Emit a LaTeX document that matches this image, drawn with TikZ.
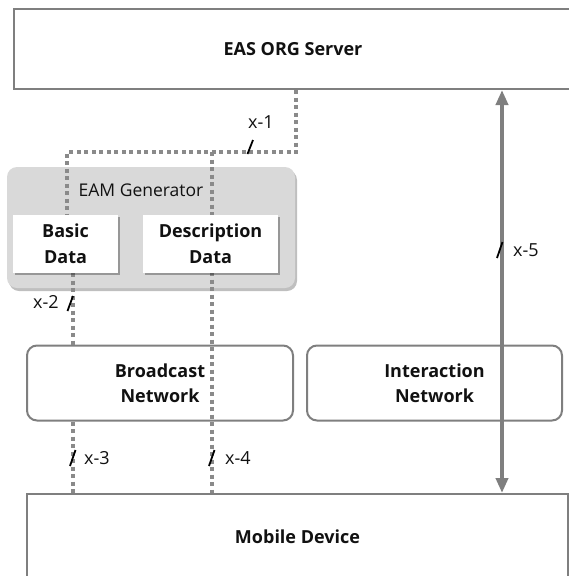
\documentclass[tikz,border=0pt]{standalone}
\usepackage{fontspec}
\setmainfont{Open Sans}
\usetikzlibrary{arrows.meta,shadows}
\pgfdeclarelayer{bg}
\pgfdeclarelayer{fg}
\pgfsetlayers{bg,main,fg}
\definecolor{bordergray}{HTML}{7F7F7F}
\definecolor{dotgray}{HTML}{8A8A8A}
\definecolor{eamfill}{HTML}{D9D9D9}
\definecolor{txt}{HTML}{111111}
\tikzset{
  plainbox/.style={draw=bordergray, line width=2pt, fill=white, inner sep=0pt, align=center, text=txt, font=\bfseries\fontsize{18}{25.5}\selectfont},
  netbox/.style={plainbox, rounded corners=10pt},
  eambox/.style={fill=eamfill, rounded corners=10pt, inner sep=0pt,
     drop shadow={shadow xshift=2pt, shadow yshift=-3pt, opacity=0.25, fill=black}},
  databox/.style={fill=white, inner sep=0pt, align=center, text=txt, font=\bfseries\fontsize{18}{26}\selectfont,
     drop shadow={shadow xshift=2pt, shadow yshift=-2pt, opacity=0.3, fill=black}},
  dotline/.style={draw=dotgray, line width=4pt, dash pattern=on 4pt off 3.5pt},
  slashmark/.style={draw=black, line width=1.8pt},
  lbl/.style={font=\fontsize{18}{20}\selectfont, inner sep=0pt, text=txt},
  twoway/.style={draw=bordergray, line width=4pt, {Triangle[width=12pt,length=15pt]}-{Triangle[width=12pt,length=15pt]}},
}
\begin{document}
\begin{tikzpicture}[x=1pt,y=-1pt]
\useasboundingbox (0,0) rectangle (569,576);

% main boxes
\node[plainbox, minimum width=558pt, minimum height=80pt] (server) at (293,49) {EAS ORG Server};
\node[plainbox, minimum width=541pt, minimum height=86pt] (mobile) at (297.5,537) {Mobile Device};
\node[netbox, minimum width=266pt, minimum height=75pt] (broadcast) at (160,383) {Broadcast\\Network};
\node[netbox, minimum width=255pt, minimum height=75pt] (interaction) at (434.5,383) {Interaction\\Network};

% EAM generator
\begin{pgfonlayer}{bg}
\node[eambox, minimum width=288pt, minimum height=121pt] (eam) at (151,227.5) {};
\end{pgfonlayer}
\node[lbl, font=\fontsize{17.5}{20}\selectfont] (eamlabel) at (141,190) {EAM Generator};

\begin{pgfonlayer}{fg}
\node[databox, minimum width=105pt, minimum height=58pt] (basic) at (65.5,244) {Basic\\Data};
\node[databox, minimum width=135pt, minimum height=58pt] (desc) at (210.5,244) {Description\\Data};
\end{pgfonlayer}

% helper coordinates
\coordinate (cx1) at (296,152);
\coordinate (cleft) at (67,152);
\coordinate (cright) at (212,152);
\coordinate (cl2) at (73,0);
\coordinate (c5) at (502,0);

% dotted paths
\draw[dotline] (server.south -| cx1) -- (cx1) -- (cleft) -- (basic.north -| cleft);
\draw[dotline] (cright) -- (mobile.north -| cright);
\draw[dotline] (basic.south -| cl2) -- (broadcast.north -| cl2);
\draw[dotline] (broadcast.south -| cl2) -- (mobile.north -| cl2);

% x-5 arrow
\draw[twoway] (server.south -| c5) -- (mobile.north -| c5);

% labels and slashes
\node[lbl] (l1) at (261,122) {x-1};
\draw[slashmark] (247.5,154) -- (253,140);
\node[lbl] (l2) at (46,302) {x-2};
\draw[slashmark] (67.5,311) -- (73,296);
\draw[slashmark] (70,466) -- (75.5,450);
\node[lbl] (l3) at (97,458) {x-3};
\draw[slashmark] (209,466) -- (214.5,450);
\node[lbl] (l4) at (238,458) {x-4};
\draw[slashmark] (497,258) -- (502.5,242);
\node[lbl] (l5) at (526,250) {x-5};
\end{tikzpicture}
\end{document}
